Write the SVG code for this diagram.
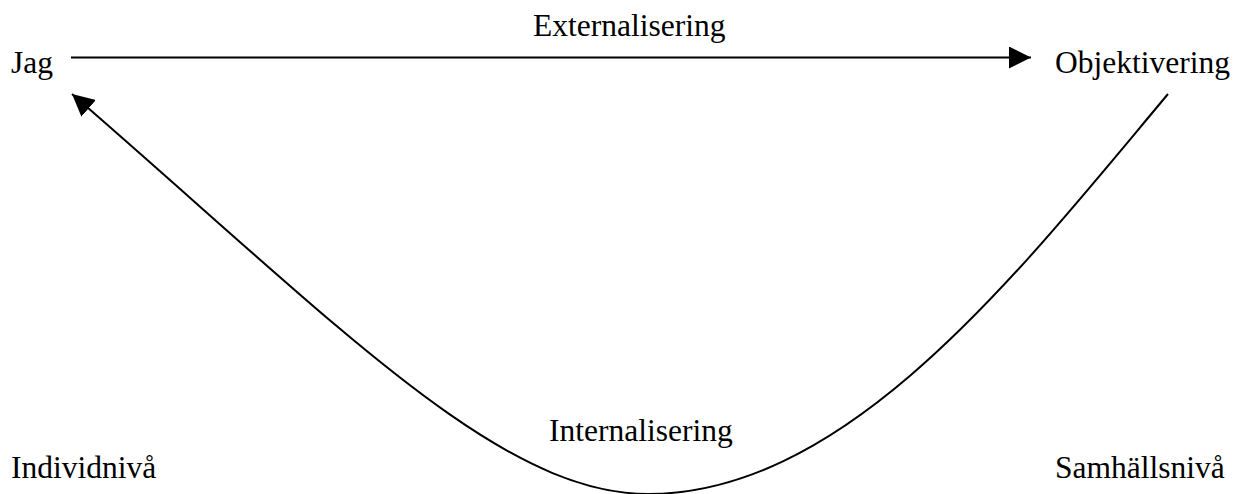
<svg xmlns="http://www.w3.org/2000/svg" width="1240" height="494" viewBox="0 0 1240 494">
<style>
.t{font-family:"Liberation Serif","Times New Roman",serif;font-size:31.5px;fill:#000}
.c{fill:none;stroke:#000;stroke-width:2}
</style>
<defs>
<marker id="ah" markerUnits="userSpaceOnUse" markerWidth="22" markerHeight="22" viewBox="0 0 20 20" refX="20" refY="10" orient="auto">
<path d="M0,0 L20,10 L0,20 Z" fill="#000"/>
</marker>
</defs>
<rect width="1240" height="494" fill="#fff"/>
<g id="connectors">
<path class="c" d="M71,57.5 L1031,57.5" marker-end="url(#ah)"/>
<path class="c" d="M1168,94 C1018,273 848,494 648,494 C498,494 337,323.5 72,94" marker-end="url(#ah)"/>
</g>
<g id="jag"><text class="t" x="11" y="73">Jag</text></g>
<g id="objektivering"><text class="t" x="1055" y="73">Objektivering</text></g>
<g id="externalisering"><text class="t" x="533" y="36">Externalisering</text></g>
<g id="internalisering"><text class="t" x="549" y="441">Internalisering</text></g>
<g id="individniva"><text class="t" x="11" y="478">Individnivå</text></g>
<g id="samhallsniva"><text class="t" x="1055" y="478">Samhällsnivå</text></g>
</svg>
